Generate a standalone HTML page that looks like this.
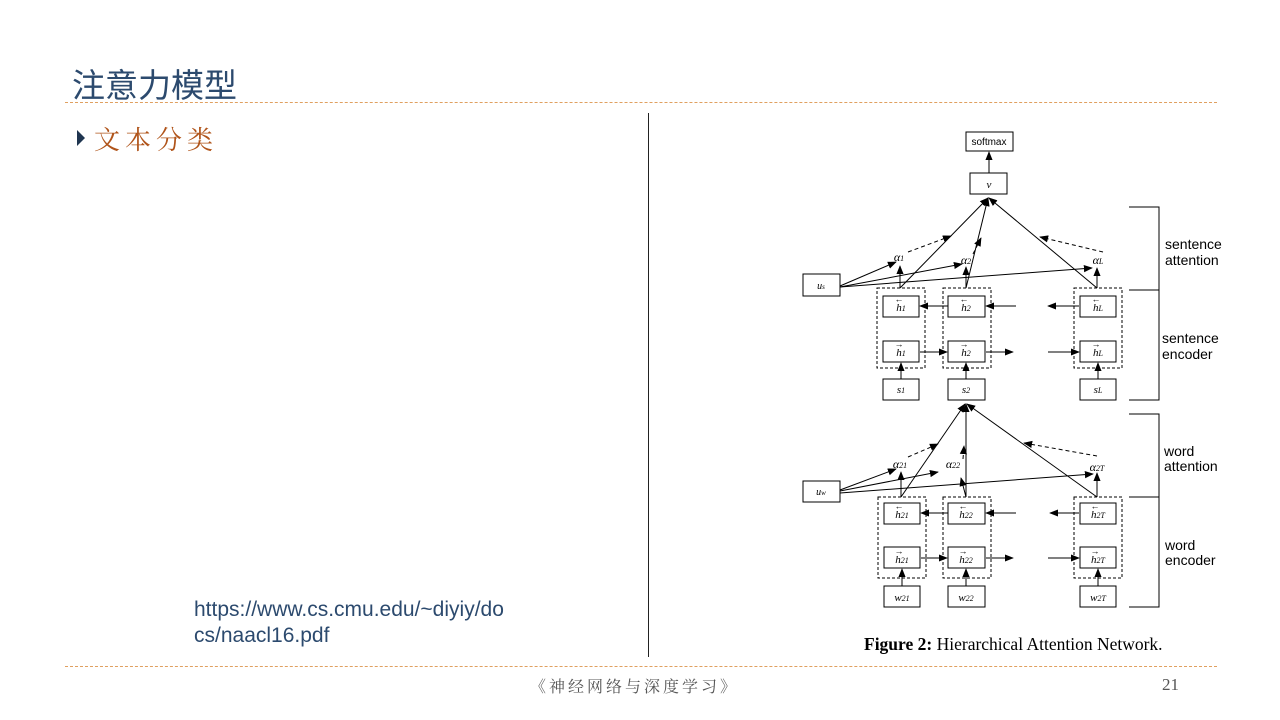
<!DOCTYPE html>
<html><head><meta charset="utf-8">
<style>
html,body{margin:0;padding:0;background:#fff;}
body{width:1280px;height:720px;position:relative;overflow:hidden;}
.abs{position:absolute;white-space:nowrap;}
</style></head>
<body>
<div class="abs" style="left:72px;top:59px;font-family:'Liberation Sans','Noto Sans CJK SC',sans-serif;font-size:33px;color:#2c4a6e;">注意力模型</div>
<div class="abs" style="left:65px;top:102px;width:1152px;border-top:1px dashed #e0a060;"></div>
<div class="abs" style="left:77px;top:130px;width:0;height:0;border-left:8px solid #1f3550;border-top:8px solid transparent;border-bottom:8px solid transparent;"></div>
<div class="abs" style="left:94px;top:120px;font-family:'Noto Serif CJK SC',serif;font-size:26px;letter-spacing:5px;color:#b0541a;">文本分类</div>
<div class="abs" style="left:648px;top:113px;width:1px;height:544px;background:#222;"></div>
<div class="abs" style="left:194px;top:597px;font-family:'Liberation Sans',sans-serif;font-size:21px;line-height:26px;color:#2c4a6e;">https://www.cs.cmu.edu/~diyiy/do<br>cs/naacl16.pdf</div>
<div class="abs" style="left:65px;top:666px;width:1152px;border-top:1px dashed #e0a060;"></div>
<div class="abs" style="left:530px;top:674px;font-family:'Noto Serif CJK SC',serif;font-size:16px;letter-spacing:3px;color:#555;">《神经网络与深度学习》</div>
<div class="abs" style="left:1162px;top:675px;font-family:'Liberation Serif',serif;font-size:17px;color:#555;">21</div>

<svg class="abs" style="left:0;top:0" width="1280" height="720" font-family="Liberation Serif, serif">
<defs>
<marker id="a" viewBox="0 0 10 10" refX="9" refY="5" markerWidth="9" markerHeight="9" orient="auto-start-reverse"><path d="M0,1 L10,5 L0,9 z" fill="#000"/></marker>
</defs>
<g stroke="#000" stroke-width="1" fill="none">
<rect x="966" y="132" width="47" height="19" fill="#fff"/>
<rect x="970" y="173" width="37" height="21"/>
<line x1="989" y1="173" x2="989" y2="152" marker-end="url(#a)"/>
<rect x="803" y="274" width="37" height="22"/>
<g stroke-dasharray="3,2">
<rect x="877" y="288" width="48" height="80"/><rect x="943" y="288" width="48" height="80"/><rect x="1074" y="288" width="48" height="80"/>
</g>
<rect x="883" y="296" width="36" height="21"/><rect x="883" y="341" width="36" height="21"/><rect x="883" y="379" width="36" height="21"/>
<rect x="948" y="296" width="37" height="21"/><rect x="948" y="341" width="37" height="21"/><rect x="948" y="379" width="37" height="21"/>
<rect x="1080" y="296" width="36" height="21"/><rect x="1080" y="341" width="36" height="21"/><rect x="1080" y="379" width="36" height="21"/>
<line x1="901" y1="379" x2="901" y2="363" marker-end="url(#a)"/>
<line x1="966" y1="379" x2="966" y2="363" marker-end="url(#a)"/>
<line x1="1098" y1="379" x2="1098" y2="363" marker-end="url(#a)"/>
<line x1="948" y1="306" x2="920" y2="306" marker-end="url(#a)"/>
<line x1="1016" y1="306" x2="986" y2="306" marker-end="url(#a)"/>
<line x1="1079" y1="306" x2="1048" y2="306" marker-end="url(#a)"/>
<line x1="920" y1="352" x2="947" y2="352" marker-end="url(#a)"/>
<line x1="986" y1="352" x2="1013" y2="352" marker-end="url(#a)"/>
<line x1="1048" y1="352" x2="1079" y2="352" marker-end="url(#a)"/>
<line x1="900" y1="288" x2="988" y2="198" marker-end="url(#a)"/>
<line x1="966" y1="288" x2="988" y2="198" marker-end="url(#a)"/>
<line x1="1097" y1="288" x2="989" y2="198" marker-end="url(#a)"/>
<line x1="900" y1="288" x2="900" y2="266" marker-end="url(#a)"/>
<line x1="966" y1="288" x2="966" y2="267" marker-end="url(#a)"/>
<line x1="1097" y1="288" x2="1097" y2="268" marker-end="url(#a)"/>
<line x1="840" y1="286" x2="896" y2="262" marker-end="url(#a)"/>
<line x1="840" y1="287" x2="962" y2="264" marker-end="url(#a)"/>
<line x1="840" y1="287" x2="1092" y2="268" marker-end="url(#a)"/>
<g stroke-dasharray="4,3">
<line x1="908" y1="252" x2="951" y2="236" marker-end="url(#a)"/>
<line x1="973" y1="254" x2="981" y2="238" marker-end="url(#a)"/>
<line x1="1103" y1="252" x2="1040" y2="237" marker-end="url(#a)"/>
</g>
<rect x="803" y="481" width="37" height="21"/>
<g stroke-dasharray="3,2">
<rect x="878" y="497" width="48" height="81"/><rect x="943" y="497" width="48" height="81"/><rect x="1074" y="497" width="48" height="81"/>
</g>
<rect x="884" y="503" width="36" height="21"/><rect x="884" y="547" width="36" height="21"/><rect x="884" y="586" width="36" height="21"/>
<rect x="948" y="503" width="37" height="21"/><rect x="948" y="547" width="37" height="21"/><rect x="948" y="586" width="37" height="21"/>
<rect x="1080" y="503" width="36" height="21"/><rect x="1080" y="547" width="36" height="21"/><rect x="1080" y="586" width="36" height="21"/>
<line x1="902" y1="586" x2="902" y2="569" marker-end="url(#a)"/>
<line x1="966" y1="586" x2="966" y2="569" marker-end="url(#a)"/>
<line x1="1098" y1="586" x2="1098" y2="569" marker-end="url(#a)"/>
<line x1="948" y1="513" x2="921" y2="513" marker-end="url(#a)"/>
<line x1="1016" y1="513" x2="986" y2="513" marker-end="url(#a)"/>
<line x1="1079" y1="513" x2="1050" y2="513" marker-end="url(#a)"/>
<line x1="921" y1="558" x2="947" y2="558" marker-end="url(#a)"/>
<line x1="986" y1="558" x2="1013" y2="558" marker-end="url(#a)"/>
<line x1="1048" y1="558" x2="1079" y2="558" marker-end="url(#a)"/>
<line x1="901" y1="497" x2="965" y2="404" marker-end="url(#a)"/>
<line x1="966" y1="497" x2="966" y2="404" marker-end="url(#a)"/>
<line x1="1097" y1="497" x2="967" y2="404" marker-end="url(#a)"/>
<line x1="901" y1="497" x2="901" y2="472" marker-end="url(#a)"/>
<line x1="966" y1="497" x2="961" y2="478" marker-end="url(#a)"/>
<line x1="1097" y1="497" x2="1097" y2="473" marker-end="url(#a)"/>
<line x1="840" y1="490" x2="896" y2="469" marker-end="url(#a)"/>
<line x1="840" y1="491" x2="938" y2="472" marker-end="url(#a)"/>
<line x1="840" y1="493" x2="1093" y2="474" marker-end="url(#a)"/>
<g stroke-dasharray="4,3">
<line x1="908" y1="457" x2="938" y2="444" marker-end="url(#a)"/>
<line x1="963" y1="459" x2="964" y2="446" marker-end="url(#a)"/>
<line x1="1097" y1="456" x2="1024" y2="443" marker-end="url(#a)"/>
</g>
<path d="M1129,207 H1159 V400 H1129"/>
<line x1="1129" y1="290" x2="1159" y2="290"/>
<path d="M1129,414 H1159 V607 H1129"/>
<line x1="1129" y1="497" x2="1159" y2="497"/>
</g>
<g font-size="11" fill="#000" text-anchor="middle">
<text x="989" y="145" font-family="Liberation Sans, sans-serif" font-size="10">softmax</text>
<text x="989" y="188" font-style="italic">v</text>
<text x="821" y="289" font-style="italic" font-size="10">u<tspan font-size="7">s</tspan></text>
<text x="821" y="495" font-style="italic" font-size="10">u<tspan font-size="7">w</tspan></text>
<text x="901" y="311" font-style="italic">h<tspan font-size="8">1</tspan></text><text x="899" y="302" font-size="9">←</text>
<text x="901" y="356" font-style="italic">h<tspan font-size="8">1</tspan></text><text x="899" y="347" font-size="9">→</text>
<text x="901" y="393" font-style="italic">s<tspan font-size="8">1</tspan></text>
<text x="966" y="311" font-style="italic">h<tspan font-size="8">2</tspan></text><text x="964" y="302" font-size="9">←</text>
<text x="966" y="356" font-style="italic">h<tspan font-size="8">2</tspan></text><text x="964" y="347" font-size="9">→</text>
<text x="966" y="393" font-style="italic">s<tspan font-size="8">2</tspan></text>
<text x="1098" y="311" font-style="italic">h<tspan font-size="8">L</tspan></text><text x="1096" y="302" font-size="9">←</text>
<text x="1098" y="356" font-style="italic">h<tspan font-size="8">L</tspan></text><text x="1096" y="347" font-size="9">→</text>
<text x="1098" y="393" font-style="italic">s<tspan font-size="8">L</tspan></text>
<text x="899" y="261" font-style="italic" font-size="12">α<tspan font-size="8">1</tspan></text>
<text x="966" y="264" font-style="italic" font-size="12">α<tspan font-size="8">2</tspan></text>
<text x="1098" y="264" font-style="italic" font-size="12">α<tspan font-size="8">L</tspan></text>
<text x="902" y="518" font-style="italic">h<tspan font-size="8">21</tspan></text><text x="899" y="509" font-size="9">←</text>
<text x="902" y="563" font-style="italic">h<tspan font-size="8">21</tspan></text><text x="899" y="554" font-size="9">→</text>
<text x="902" y="601" font-style="italic">w<tspan font-size="8">21</tspan></text>
<text x="966" y="518" font-style="italic">h<tspan font-size="8">22</tspan></text><text x="963" y="509" font-size="9">←</text>
<text x="966" y="563" font-style="italic">h<tspan font-size="8">22</tspan></text><text x="963" y="554" font-size="9">→</text>
<text x="966" y="601" font-style="italic">w<tspan font-size="8">22</tspan></text>
<text x="1098" y="518" font-style="italic">h<tspan font-size="8">2T</tspan></text><text x="1095" y="509" font-size="9">←</text>
<text x="1098" y="563" font-style="italic">h<tspan font-size="8">2T</tspan></text><text x="1095" y="554" font-size="9">→</text>
<text x="1098" y="601" font-style="italic">w<tspan font-size="8">2T</tspan></text>
<text x="900" y="468" font-style="italic" font-size="12">α<tspan font-size="8">21</tspan></text>
<text x="953" y="468" font-style="italic" font-size="12">α<tspan font-size="8">22</tspan></text>
<text x="1097" y="471" font-style="italic" font-size="12">α<tspan font-size="8">2T</tspan></text>
</g>
<g font-family="Liberation Sans, sans-serif" font-size="14" fill="#000">
<text x="1165" y="249">sentence</text><text x="1165" y="265">attention</text>
<text x="1162" y="343">sentence</text><text x="1162" y="359">encoder</text>
<text x="1164" y="456">word</text><text x="1164" y="471">attention</text>
<text x="1165" y="550">word</text><text x="1165" y="565">encoder</text>
</g>
<text x="864" y="650" font-size="17.5" fill="#000"><tspan font-weight="bold">Figure 2:</tspan> Hierarchical Attention Network.</text>
</svg>
</body></html>
